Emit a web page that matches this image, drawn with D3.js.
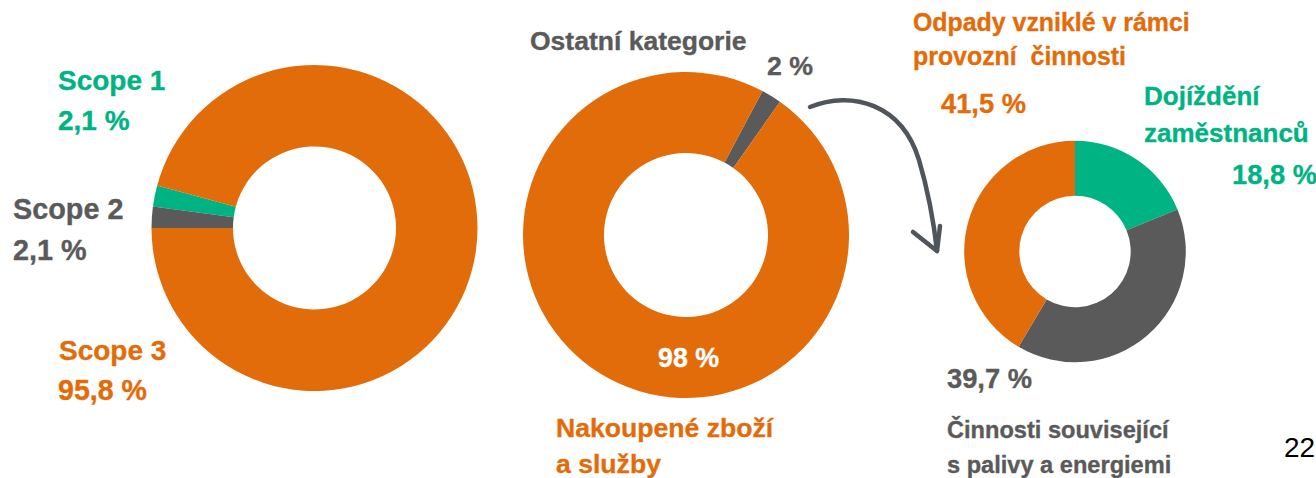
<!DOCTYPE html>
<html>
<head>
<meta charset="utf-8">
<script src="https://cdn.jsdelivr.net/npm/d3@7"></script>
<style>
  html, body { margin: 0; padding: 0; background: #fff; }
  svg { display: block; font-family: 'Liberation Sans', Arial, sans-serif; }
  .lbl { font-weight: bold; white-space: pre; stroke-width: 0.35px; }
</style>
</head>
<body>
<div id="chart"></div>
<script>
// emissions split by scope
var scopeNames = ['Scope 1', 'Scope 2', 'Scope 3'];
var scopeValues = [2.1, 2.1, 95.8];

// scope 3 split
var scope3Names = ['Ostatní kategorie', 'Nakoupené zboží a služby'];
var scope3Values = [2, 98];

// "other categories" split
var otherNames = ['Dojíždění zaměstnanců', 'Činnosti související s palivy a energiemi', 'Odpady vzniklé v rámci provozní činnosti'];
var otherValues = [18.8, 39.7, 41.5];

var ORANGE = '#e36c0a';
var GREEN = '#00b383';
var GREY = '#5a5a5a';

var width = 1316;
var height = 478;

var svg = d3.select('#chart').append('svg')
  .attr('width', width)
  .attr('height', height);

var pct = function(v, digits) {
  return v.toFixed(digits).replace('.', ',') + ' %';
};

// draws one donut, order = drawing order of the slices (indices)
var donut = function(values, colors, opts) {
  var pie = d3.pie()
    .value(function(i) { return values[i]; })
    .sort(function(a, b) { return opts.order.indexOf(a) - opts.order.indexOf(b); })
    .startAngle(opts.start)
    .endAngle(opts.start + 2 * Math.PI);

  var arc = d3.arc()
    .innerRadius(opts.inner)
    .outerRadius(opts.outer);

  var g = svg.append('g')
    .attr('transform', 'translate(' + opts.cx + ',' + opts.cy + ')');

  g.selectAll('path').data(pie(values.map(function(v, i) { return i; }))).enter()
    .append('path')
    .attr('d', arc)
    .attr('fill', function(d) { return colors[d.data]; });
  return g;
};

donut(scopeValues, [GREEN, GREY, ORANGE], {
  cx: 314.5, cy: 228, outer: 163, inner: 81.5,
  start: 1.5 * Math.PI, order: [1, 0, 2]
});

donut(scope3Values, [GREY, ORANGE], {
  cx: 686, cy: 235, outer: 163, inner: 82,
  start: 28 * Math.PI / 180, order: [0, 1]
});

donut(otherValues, [GREEN, GREY, ORANGE], {
  cx: 1075, cy: 251.5, outer: 110.8, inner: 55.7,
  start: 0, order: [0, 1, 2]
});

// labels
var text = function(x, y, str, color, size, anchor) {
  svg.append('text')
    .attr('class', 'lbl')
    .attr('x', x)
    .attr('y', y)
    .attr('fill', color)
    .attr('stroke', color)
    .attr('font-size', size)
    .attr('text-anchor', anchor || 'start')
    .text(str);
};

text(58, 90, scopeNames[0], GREEN, 28);
text(58, 130, pct(scopeValues[0], 1), GREEN, 28);
text(13, 219, scopeNames[1], GREY, 28.8);
text(13, 260, pct(scopeValues[1], 1), GREY, 28.8);
text(59, 360, scopeNames[2], ORANGE, 28);
text(58, 400, pct(scopeValues[2], 1), ORANGE, 28.6);

text(530, 50, scope3Names[0], GREY, 26.5);
text(767, 75, pct(scope3Values[0], 0), GREY, 26.7);
text(658, 367, pct(scope3Values[1], 0), '#fff', 26.8);
text(556, 437, 'Nakoupené zboží', ORANGE, 26.6);
text(556, 473, 'a služby', ORANGE, 26.6);

text(913, 31, 'Odpady vzniklé v rámci', ORANGE, 24.9);
text(913, 65, 'provozní  činnosti', ORANGE, 24.9);
text(941, 113, pct(otherValues[2], 1), ORANGE, 27.3);

text(1144, 105, 'Dojíždění', GREEN, 26);
text(1144, 142, 'zaměstnanců', GREEN, 26);
text(1232, 184, pct(otherValues[0], 1), GREEN, 27.3);

text(947, 388, pct(otherValues[1], 1), GREY, 27.3);
text(947, 438, 'Činnosti související', GREY, 23.6);
text(947, 473, 's palivy a energiemi', GREY, 23.6);

// page number
svg.append('text')
  .attr('x', 1284)
  .attr('y', 457)
  .attr('font-size', 28)
  .attr('fill', '#000')
  .text('22');

// hand-drawn arrow from the 2 % slice to the breakdown
var arrow = d3.path();
arrow.moveTo(810, 107);
arrow.bezierCurveTo(852, 90, 902, 104, 919, 160);
arrow.bezierCurveTo(929, 194, 934, 224, 937, 251);
svg.append('path')
  .attr('d', arrow.toString())
  .attr('fill', 'none')
  .attr('stroke', '#50555c')
  .attr('stroke-width', 4.5)
  .attr('stroke-linecap', 'round');

var head = d3.line()([[913, 232], [937, 251], [940, 226]]);
svg.append('path')
  .attr('d', head)
  .attr('fill', 'none')
  .attr('stroke', '#50555c')
  .attr('stroke-width', 4.5)
  .attr('stroke-linecap', 'round')
  .attr('stroke-linejoin', 'round');
</script>
</body>
</html>
